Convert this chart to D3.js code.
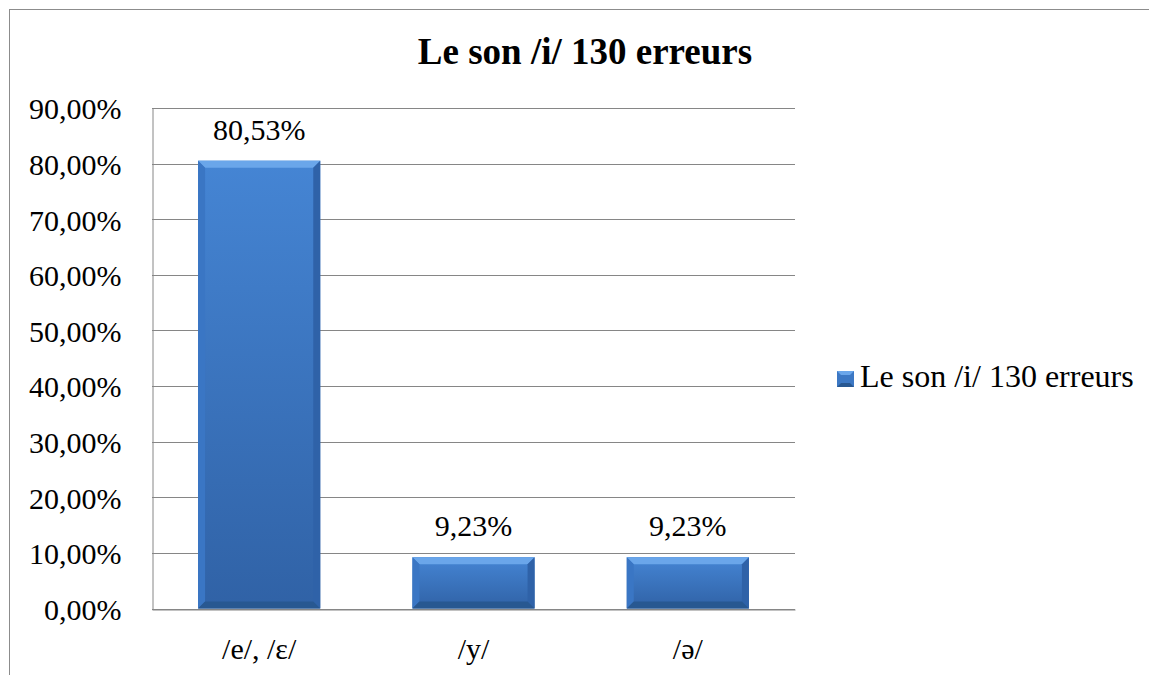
<!DOCTYPE html>
<html>
<head>
<meta charset="utf-8">
<script src="https://cdn.jsdelivr.net/npm/d3@7"></script>
<style>
body { margin: 0; background: #fff; }
</style>
</head>
<body>
<svg width="1149" height="675"></svg>
<script>
var title = 'Le son /i/ 130 erreurs';
var seriesName = 'Le son /i/ 130 erreurs';
var categories = ['/e/, /ε/', '/y/', '/ə/'];
var values = [0.8053, 0.0923, 0.0923];
var tickValues = [0, 0.1, 0.2, 0.3, 0.4, 0.5, 0.6, 0.7, 0.8, 0.9];

var serif = '"Liberation Serif", "Times New Roman", serif';
var svg = d3.select('svg');
var fr = d3.formatLocale({decimal: ',', thousands: ' ', grouping: [3], currency: ['', '€']});
var fmt = fr.format('.2%');

var plot = {left: 152, right: 795, top: 108, bottom: 608.5};

// chart frame
svg.append('rect')
	.attr('x', 9.5).attr('y', 9.5)
	.attr('width', 1200).attr('height', 700)
	.attr('fill', 'none').attr('stroke', '#8c8c8c').attr('stroke-width', 1);

svg.append('text')
	.attr('x', 585).attr('y', 64)
	.attr('text-anchor', 'middle')
	.style('font-family', serif)
	.style('font-size', '37px').style('font-weight', 'bold')
	.text(title);

var x = d3.scaleBand().domain(categories).range([plot.left, plot.right]).paddingInner(0.43).paddingOuter(0.215);
var y = d3.scaleLinear().domain([0, 0.9]).range([plot.bottom, plot.top]);

// gridlines
svg.append('g').selectAll('line').data(tickValues).enter().append('line')
	.attr('x1', plot.left).attr('x2', plot.right)
	.attr('y1', function(d){ return Math.round(y(d)) + 0.5; })
	.attr('y2', function(d){ return Math.round(y(d)) + 0.5; })
	.attr('stroke', '#868686').attr('stroke-width', 1);

// y axis
var yAxis = svg.append('g').attr('transform', 'translate(' + (plot.left + 0.5) + ',0)')
	.call(d3.axisLeft(y).tickValues(tickValues).tickFormat(fmt).tickSize(0).tickPadding(31));
yAxis.select('.domain').attr('stroke', '#868686');
yAxis.selectAll('text').style('font-size', '30px').style('font-family', serif).attr('fill', '#000').attr('dy', '0.36em');

// x axis
var xAxis = svg.append('g').attr('transform', 'translate(0,' + (Math.round(plot.bottom) + 0.5) + ')')
	.call(d3.axisBottom(x).tickSize(0).tickPadding(28));
xAxis.select('.domain').attr('stroke', '#868686');
xAxis.selectAll('text').style('font-size', '30px').style('font-family', serif).attr('fill', '#000').attr('dy', '0.71em');

// bar gradient
var defs = svg.append('defs');
var g1 = defs.append('linearGradient').attr('id', 'barFill').attr('x1', 0).attr('y1', 0).attr('x2', 0).attr('y2', 1);
g1.append('stop').attr('offset', '0%').attr('stop-color', '#4585d4');
g1.append('stop').attr('offset', '100%').attr('stop-color', '#3062a6');

var bars = svg.append('g').selectAll('g').data(values).enter().append('g');
bars.append('rect')
	.attr('x', function(d, i){ return x(categories[i]); })
	.attr('y', function(d){ return y(d); })
	.attr('width', x.bandwidth())
	.attr('height', function(d){ return y(0) - y(d); })
	.attr('fill', 'url(#barFill)');

// bevel edges
var bev = 7;
function bevel(d, i, side) {
	var x0 = x(categories[i]), x1 = x0 + x.bandwidth(), y0 = y(d), y1 = y(0);
	if (side === 'top') return [[x0, y0], [x1, y0], [x1 - bev, y0 + bev], [x0 + bev, y0 + bev]];
	if (side === 'left') return [[x0, y0], [x0 + bev, y0 + bev], [x0 + bev, y1 - bev], [x0, y1]];
	if (side === 'right') return [[x1, y0], [x1 - bev, y0 + bev], [x1 - bev, y1 - bev], [x1, y1]];
	return [[x0, y1], [x0 + bev, y1 - bev], [x1 - bev, y1 - bev], [x1, y1]];
}
var bevelColors = {top: '#6aa6ea', left: '#3a76c4', right: '#2f62a8', bottom: '#285891'};
['top', 'left', 'right', 'bottom'].forEach(function(side){
	bars.append('polygon')
		.attr('points', function(d, i){ return bevel(d, i, side).join(' '); })
		.attr('fill', bevelColors[side]);
});

// data labels
bars.append('text')
	.attr('x', function(d, i){ return x(categories[i]) + x.bandwidth() / 2; })
	.attr('y', function(d){ return y(d) - 21; })
	.attr('text-anchor', 'middle')
	.style('font-family', serif)
	.style('font-size', '30px')
	.text(function(d){ return fmt(d); });

// legend
var legend = svg.append('g').attr('transform', 'translate(837,371)');
legend.append('rect').attr('width', 17).attr('height', 16).attr('fill', '#3c78c4');
legend.append('polygon').attr('points', '0,0 17,0 13,4 4,4').attr('fill', '#6aa6ea');
legend.append('polygon').attr('points', '0,16 17,16 13,12 4,12').attr('fill', '#285891');
legend.append('text')
	.attr('x', 23).attr('y', 16)
	.style('font-family', serif)
	.style('font-size', '32px')
	.text(seriesName);
</script>
</body>
</html>
